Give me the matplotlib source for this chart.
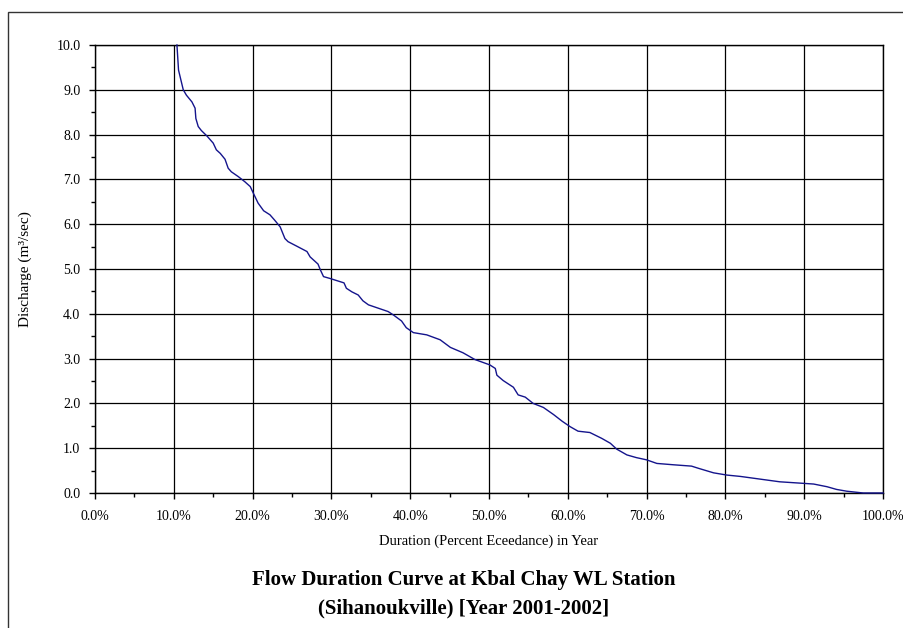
import numpy as np
import matplotlib
matplotlib.use("Agg")
import matplotlib.pyplot as plt
from matplotlib.patches import Rectangle
from matplotlib.ticker import MultipleLocator, FuncFormatter

plt.rcParams['font.family'] = ['Liberation Serif', 'DejaVu Serif']

# percent exceedance (%) and discharge (m3/sec)
duration = [10.4, 10.6, 11.2, 11.6, 12.3, 12.7, 12.8, 13.1, 13.5, 14.2, 15.0, 15.4,
            15.9, 16.5, 16.9, 17.3, 18.2, 19.0, 19.7, 20.1, 20.7, 21.4, 22.2, 22.8,
            23.5, 24.1, 24.5, 25.6, 26.9, 27.3, 28.3, 28.6, 29.0, 29.8, 30.7, 31.6,
            31.9, 32.6, 33.4, 34.0, 34.7, 35.7, 37.2, 37.9, 38.9, 39.5, 40.4, 42.1,
            43.8, 45.1, 46.7, 48.2, 50.1, 50.8, 51.0, 51.8, 53.1, 53.7, 54.6, 55.6,
            56.9, 58.2, 59.3, 60.3, 61.3, 62.8, 64.3, 65.4, 66.2, 67.5, 68.7, 70.0,
            71.3, 73.4, 75.7, 76.6, 78.5, 80.2, 81.9, 84.4, 86.9, 89.5, 91.2, 92.9,
            94.1, 95.4, 97.5, 100.0]
discharge = [10.0, 9.44, 9.0, 8.88, 8.73, 8.59, 8.36, 8.18, 8.09, 7.97, 7.81, 7.66,
             7.58, 7.45, 7.25, 7.17, 7.06, 6.95, 6.84, 6.69, 6.47, 6.30, 6.21, 6.09,
             5.94, 5.68, 5.61, 5.51, 5.39, 5.27, 5.11, 4.98, 4.83, 4.79, 4.74, 4.69,
             4.57, 4.49, 4.42, 4.29, 4.20, 4.14, 4.05, 3.97, 3.84, 3.69, 3.58, 3.53,
             3.42, 3.25, 3.13, 2.98, 2.86, 2.78, 2.63, 2.51, 2.36, 2.19, 2.14, 2.00,
             1.91, 1.75, 1.60, 1.48, 1.38, 1.35, 1.22, 1.11, 0.98, 0.85, 0.79, 0.74,
             0.66, 0.63, 0.60, 0.55, 0.45, 0.40, 0.37, 0.31, 0.25, 0.22, 0.20, 0.14,
             0.08, 0.04, 0.0, 0.0]

W, H = 904, 628
fig = plt.figure(figsize=(W / 100, H / 100), dpi=100)
ax = fig.add_axes([95 / W, (H - 493) / H, 788 / W, 448 / H])

ax.plot(np.array(duration) / 100, discharge, color='#14148c', lw=1.0, zorder=3,
        clip_on=False)

ax.set_xlim(0, 1)
ax.set_ylim(0, 10)
ax.xaxis.set_major_locator(MultipleLocator(0.1))
ax.xaxis.set_minor_locator(MultipleLocator(0.05))
ax.yaxis.set_major_locator(MultipleLocator(1))
ax.yaxis.set_minor_locator(MultipleLocator(0.5))
ax.xaxis.set_major_formatter(FuncFormatter(lambda v, p: f"{v * 100:.1f}%"))
ax.yaxis.set_major_formatter(FuncFormatter(lambda v, p: f"{v:.1f}"))
ax.grid(True, which='major', color='black', lw=0.9)
ax.set_axisbelow(True)
for s in ax.spines.values():
    s.set_color('black')
    s.set_linewidth(1.0)
ax.tick_params(which='major', length=4, width=1, labelsize=10, color='black')
ax.tick_params(which='minor', length=3, width=1, color='black')
ax.tick_params(axis='x', which='major', pad=8)
ax.tick_params(axis='y', which='major', pad=6.5)

ax.set_xlabel("Duration (Percent Eceedance) in Year", fontsize=10.5)
ax.xaxis.set_label_coords(0.5, -(541 - 493) / 448)
ax.xaxis.label.set_va('center')
ax.set_ylabel("Discharge (m³/sec)", fontsize=11)
ax.yaxis.set_label_coords((25 - 95) / 788, 0.5)
ax.yaxis.label.set_va('center')

fig.text(464 / W, 1 - 580 / H, "Flow Duration Curve at Kbal Chay WL Station",
         ha='center', va='center', fontsize=15, fontweight='bold')
fig.text(464 / W, 1 - 608 / H, "(Sihanoukville) [Year 2001-2002]",
         ha='center', va='center', fontsize=15, fontweight='bold')

# chart area border (cut off at right and bottom)
fig.add_artist(Rectangle((8 / W, -0.1), 1.2, 1.1 - 12 / H, transform=fig.transFigure,
                         fill=False, edgecolor='#333333', lw=1.0))

fig.savefig("out.png", dpi=100)
